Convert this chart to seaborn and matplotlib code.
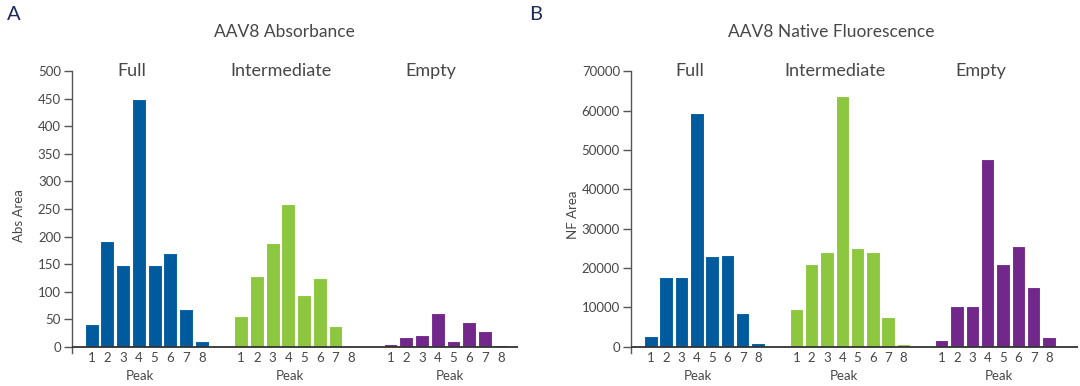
import pandas as pd
import matplotlib.pyplot as plt
import seaborn as sns

# values
groups = ['Full', 'Intermediate', 'Empty']
peaks = [1, 2, 3, 4, 5, 6, 7, 8]

abs_full = [42, 192, 148, 450, 148, 171, 68, 10]
abs_intermediate = [56, 129, 189, 259, 94, 124, 37, 0]
abs_empty = [4, 18, 21, 62, 10, 44, 28, 3]

nf_full = [2800, 17800, 17800, 59300, 23000, 23200, 8600, 800]
nf_intermediate = [9500, 21000, 24000, 63800, 25200, 24000, 7500, 700]
nf_empty = [1700, 10300, 10300, 47800, 21000, 25500, 15200, 2400]

colors = {'Full': '#005b9e', 'Intermediate': '#8dc63f', 'Empty': '#72288b'}
text_col = '#474747'
gap = 9.5  # slot offset between groups


def make_frame(full, inter, empty):
    rows = []
    for g, (name, vals) in enumerate(zip(groups, [full, inter, empty])):
        for p, v in zip(peaks, vals):
            rows.append({'group': name, 'peak': p, 'pos': g * gap + (p - 1), 'value': v})
    return pd.DataFrame(rows)


absData = make_frame(abs_full, abs_intermediate, abs_empty)
nfData = make_frame(nf_full, nf_intermediate, nf_empty)

sns.set_style('white')
plt.rcParams['font.family'] = ['Lato', 'DejaVu Sans']

fig = plt.figure(figsize=(10.8, 3.86), dpi=100)
ax1 = fig.add_axes([72 / 1080, 0.0847, 446 / 1080, 0.7306])
ax2 = fig.add_axes([631 / 1080, 0.0847, 447 / 1080, 0.7306])


def draw_panel(ax, data, ymax, ystep, ylow, ylabel, xlim, label_x):
    sns.barplot(data=data, x='pos', y='value', hue='group', palette=colors,
                native_scale=True, dodge=False, width=0.88, errorbar=None,
                saturation=1, edgecolor='white', linewidth=0.8, legend=False, ax=ax)
    ax.set_ylim(ylow, ymax)
    ax.set_xlim(*xlim)
    ax.set_yticks(range(0, ymax + 1, ystep))
    ax.set_xticks(data['pos'])
    ax.set_xticklabels(data['peak'])
    ax.axhline(0, color='#333333', lw=1.3, zorder=5)
    for s in ['top', 'right', 'bottom']:
        ax.spines[s].set_visible(False)
    ax.spines['left'].set_color('#555555')
    ax.spines['left'].set_linewidth(1.0)
    ax.tick_params(axis='y', left=True, length=6, width=1.0, color='#555555',
                   labelsize=9.5, labelcolor=text_col, pad=2)
    ax.tick_params(axis='x', bottom=False, length=0, labelsize=9.5,
                   labelcolor=text_col, pad=-1)
    ax.set_xlabel('')
    ax.set_ylabel(ylabel, fontsize=9.5, color=text_col)
    ax.yaxis.set_label_coords(label_x, 0.49)
    trans = ax.get_xaxis_transform()
    for g, name in enumerate(groups):
        ax.text(g * gap + 2.55, ymax, name, ha='center', va='center',
                fontsize=13, color=text_col)
        peak_x = g * gap + (3.75 if name == 'Empty' else 3.1)
        ax.text(peak_x, -0.08, 'Peak', transform=trans, ha='center',
                va='center', fontsize=9.5, color=text_col)


draw_panel(ax1, absData, 500, 50, -12, 'Abs Area', (-1.25, 27.1), -0.106)
draw_panel(ax2, nfData, 70000, 10000, -1700, 'NF Area', (-1.3, 27.9), -0.117)

fig.text(284 / 1080, 1 - 32 / 386, 'AAV8 Absorbance', ha='center', va='center',
         fontsize=12.5, color=text_col)
fig.text(831 / 1080, 1 - 32 / 386, 'AAV8 Native Fluorescence', ha='center',
         va='center', fontsize=12.5, color=text_col)
fig.text(14 / 1080, 1 - 15 / 386, 'A', ha='center', va='center', fontsize=14.5,
         color='#1f2a5c')
fig.text(536 / 1080, 1 - 15 / 386, 'B', ha='center', va='center', fontsize=14.5,
         color='#1f2a5c')

fig.savefig('out.png', dpi=100)
